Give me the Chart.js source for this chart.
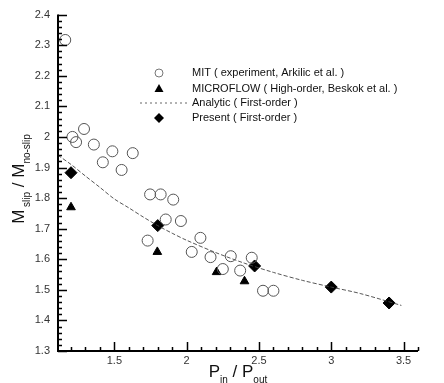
<!DOCTYPE html>
<html>
<head>
<meta charset="utf-8">
<script src="https://cdn.jsdelivr.net/npm/chart.js@4"></script>
<style>
  html, body { margin: 0; padding: 0; background: #fff; }
  #wrap { width: 444px; height: 383px; }
</style>
</head>
<body>
<div id="wrap"><canvas id="chart"></canvas></div>
<script>
// values
const mitX = [1.16, 1.21, 1.235, 1.29, 1.358, 1.42, 1.486, 1.55, 1.627, 1.747, 1.82, 1.907, 1.855, 1.96, 1.73, 2.095, 2.035, 2.165, 2.305, 2.45, 2.25, 2.37, 2.528, 2.6];
const mitY = [2.317, 2.0, 1.983, 2.026, 1.975, 1.917, 1.953, 1.892, 1.947, 1.812, 1.812, 1.795, 1.73, 1.725, 1.661, 1.67, 1.624, 1.607, 1.61, 1.605, 1.568, 1.563, 1.497, 1.497];

const microX = [1.2, 1.797, 2.207, 2.4];
const microY = [1.77, 1.624, 1.558, 1.528];

const analyticX = [1.11, 1.2, 1.3, 1.4, 1.5, 1.6, 1.7, 1.8, 1.9, 2.0, 2.2, 2.4, 2.6, 2.8, 3.0, 3.2, 3.485];
const analyticY = [1.94, 1.91, 1.872, 1.835, 1.797, 1.768, 1.738, 1.71, 1.685, 1.662, 1.622, 1.587, 1.557, 1.531, 1.509, 1.488, 1.449];

const presentX = [1.2, 1.8, 2.47, 3.0, 3.4];
const presentY = [1.883, 1.71, 1.578, 1.509, 1.457];

const xTicks = [1.5, 2, 2.5, 3, 3.5];
const yTicks = [1.3, 1.4, 1.5, 1.6, 1.7, 1.8, 1.9, 2, 2.1, 2.2, 2.3, 2.4];

const legendLabels = [
  'MIT ( experiment, Arkilic et al. )',
  'MICROFLOW ( High-order, Beskok et al. )',
  'Analytic ( First-order )',
  'Present ( First-order )'
];

function pts(xs, ys) {
  return xs.map((x, i) => ({ x: x, y: ys[i] }));
}

const FONT = '"Liberation Sans", Arial, sans-serif';

// axes lines, inward ticks, titles and legend
const decor = {
  id: 'decor',
  afterDraw(chart) {
    const ctx = chart.ctx;
    const a = chart.chartArea;
    const xs = chart.scales.x, ys = chart.scales.y;
    ctx.save();
    ctx.strokeStyle = '#000';
    ctx.lineWidth = 2;
    ctx.beginPath();
    ctx.moveTo(a.left, a.top);
    ctx.lineTo(a.left, a.bottom);
    ctx.lineTo(a.right, a.bottom);
    ctx.stroke();

    ctx.lineWidth = 1.5;
    ctx.beginPath();
    for (let v = 1.3; v <= 2.401; v += 0.02) {
      const major = Math.abs(v * 10 - Math.round(v * 10)) < 0.01;
      const py = Math.round(ys.getPixelForValue(v)) + 0.5;
      ctx.moveTo(a.left, py);
      ctx.lineTo(a.left + (major ? 9 : 4), py);
    }
    for (let v = 1.2; v <= 3.601; v += 0.1) {
      const major = Math.abs(v * 2 - Math.round(v * 2)) < 0.01;
      const px = Math.round(xs.getPixelForValue(v)) + 0.5;
      ctx.moveTo(px, a.bottom);
      ctx.lineTo(px, a.bottom - (major ? 9 : 4));
    }
    ctx.stroke();

    // axis titles with subscripts
    function rich(parts, cx, cy, rot) {
      ctx.save();
      ctx.translate(cx, cy);
      ctx.rotate(rot);
      let w = 0;
      parts.forEach(p => { ctx.font = p.size + 'px ' + FONT; w += ctx.measureText(p.t).width; });
      let x = -w / 2;
      ctx.fillStyle = '#111';
      ctx.textBaseline = 'alphabetic';
      ctx.textAlign = 'left';
      parts.forEach(p => {
        ctx.font = p.size + 'px ' + FONT;
        ctx.fillText(p.t, x, p.dy || 0);
        x += ctx.measureText(p.t).width;
      });
      ctx.restore();
    }
    rich([
      { t: 'M', size: 17 }, { t: ' slip', size: 10, dy: 6 },
      { t: ' / ', size: 17 },
      { t: 'M', size: 17 }, { t: 'no-slip', size: 10, dy: 6 }
    ], 24, 179, -Math.PI / 2);
    rich([
      { t: 'P', size: 17 }, { t: 'in', size: 10, dy: 6 },
      { t: ' / ', size: 17 },
      { t: 'P', size: 17 }, { t: 'out', size: 10, dy: 6 }
    ], 238, 377, 0);

    // legend
    const rowY = [73, 88.5, 103, 118];
    const symX = 159;
    ctx.font = '11px ' + FONT;
    ctx.textBaseline = 'middle';
    ctx.fillStyle = '#111';
    legendLabels.forEach((t, i) => ctx.fillText(t, 192, rowY[i]));
    ctx.lineWidth = 1;
    ctx.strokeStyle = '#777';
    ctx.beginPath();
    ctx.arc(symX, rowY[0], 4, 0, Math.PI * 2);
    ctx.stroke();
    ctx.fillStyle = '#000';
    ctx.beginPath();
    ctx.moveTo(symX, rowY[1] - 4.5);
    ctx.lineTo(symX + 4.5, rowY[1] + 3.5);
    ctx.lineTo(symX - 4.5, rowY[1] + 3.5);
    ctx.closePath();
    ctx.fill();
    ctx.setLineDash([2, 3]);
    ctx.strokeStyle = '#666';
    ctx.beginPath();
    ctx.moveTo(140, rowY[2]);
    ctx.lineTo(187, rowY[2]);
    ctx.stroke();
    ctx.setLineDash([]);
    ctx.beginPath();
    ctx.moveTo(symX, rowY[3] - 5);
    ctx.lineTo(symX + 5, rowY[3]);
    ctx.lineTo(symX, rowY[3] + 5);
    ctx.lineTo(symX - 5, rowY[3]);
    ctx.closePath();
    ctx.fill();
    ctx.restore();
  }
};

new Chart(document.getElementById('chart').getContext('2d'), {
  type: 'scatter',
  data: {
    datasets: [
      {
        label: legendLabels[2],
        data: pts(analyticX, analyticY),
        showLine: true,
        borderColor: '#444',
        borderWidth: 0.9,
        borderDash: [4, 2],
        pointRadius: 0,
        tension: 0.3
      },
      {
        label: legendLabels[0],
        data: pts(mitX, mitY),
        pointStyle: 'circle',
        pointRadius: 5.5,
        backgroundColor: 'rgba(255,255,255,0)',
        borderColor: '#555',
        borderWidth: 1
      },
      {
        label: legendLabels[1],
        data: pts(microX, microY),
        pointStyle: 'triangle',
        pointRadius: 5,
        backgroundColor: '#000',
        borderColor: '#000',
        borderWidth: 1
      },
      {
        label: legendLabels[3],
        data: pts(presentX, presentY),
        pointStyle: 'rectRot',
        pointRadius: 6,
        backgroundColor: '#000',
        borderColor: '#000',
        borderWidth: 1
      }
    ]
  },
  options: {
    responsive: true,
    maintainAspectRatio: false,
    animation: false,
    layout: { padding: { top: 14, right: 26, left: 0, bottom: 0 } },
    plugins: { legend: { display: false }, tooltip: { enabled: false } },
    scales: {
      x: {
        type: 'linear',
        min: 1.11,
        max: 3.6,
        grid: { display: false, drawTicks: false },
        border: { display: false },
        afterFit: s => { s.height = 32; },
        afterBuildTicks: s => { s.ticks = xTicks.map(v => ({ value: v })); },
        ticks: {
          padding: 3,
          color: '#333',
          font: { family: FONT, size: 11 },
          callback: v => String(v)
        }
      },
      y: {
        type: 'linear',
        min: 1.3,
        max: 2.4,
        grid: { display: false, drawTicks: false },
        border: { display: false },
        afterFit: s => { s.width = 58; },
        afterBuildTicks: s => { s.ticks = yTicks.map(v => ({ value: v })); },
        ticks: {
          padding: 8,
          color: '#333',
          font: { family: FONT, size: 11 },
          callback: v => String(Math.round(v * 10) / 10)
        }
      }
    }
  },
  plugins: [decor]
});
</script>
</body>
</html>
